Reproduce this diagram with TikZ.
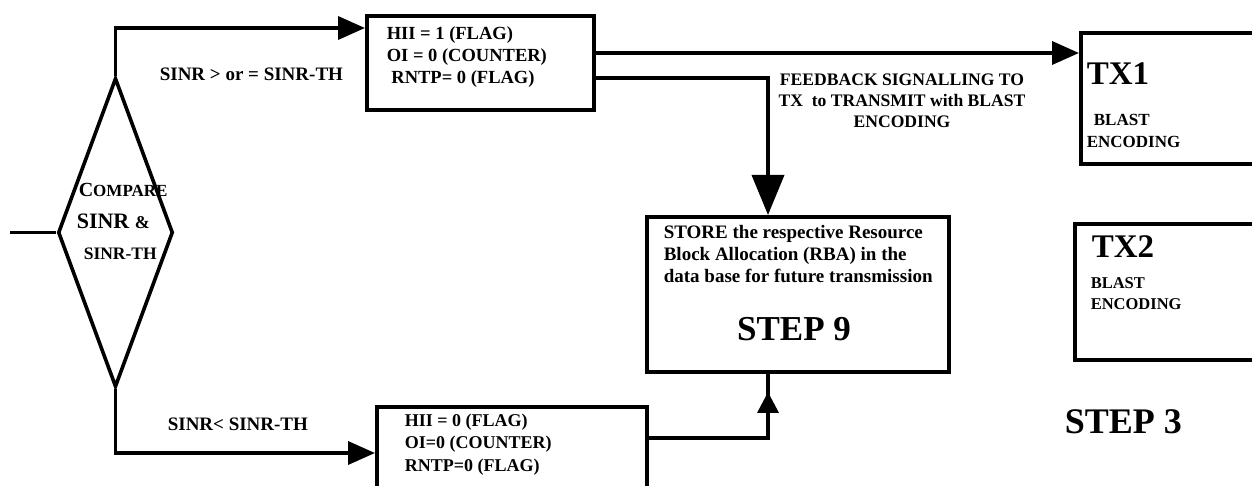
\documentclass[tikz,border=0pt]{standalone}
\usepackage{fontspec}
\setmainfont{Liberation Serif}
\usetikzlibrary{arrows.meta,calc,positioning,shapes.geometric,decorations.markings}

\begin{document}
\begin{tikzpicture}[x=1pt,y=-1pt,line width=3.6pt,font=\bfseries]
	\tikzstyle{blk}=[draw, rectangle, inner sep=0pt, anchor=north west]
	\tikzstyle{txt}=[inner sep=0pt, anchor=north west, align=left]
	\tikzstyle{arr}=[-{Triangle[length=27pt,width=23pt]}]
	\tikzstyle{bigarr}=[-{Triangle[length=40pt,width=32pt]}]
	\tikzstyle{midup}=[postaction={decorate}, decoration={markings,
		mark=at position 0.9 with {\arrow{Triangle[length=21pt,width=21pt]}}}]
	\useasboundingbox (0,0) rectangle (1252,486);
	\clip (0,0) rectangle (1252,486);

	% blocks
	\node[draw, diamond, inner sep=0pt, minimum width=115pt, minimum height=309pt] (cmp) at (115.5,232.5) {};
	\node[blk, minimum width=227pt, minimum height=94pt]  (hi) at (365,14) {};
	\node[blk, minimum width=270pt, minimum height=110pt] (lo) at (375,405) {};
	\node[blk, minimum width=302pt, minimum height=155pt] (store) at (645,215) {};
	\node[blk, minimum width=220pt, minimum height=131pt] (tx1) at (1079,31) {};
	\node[blk, minimum width=220pt, minimum height=136pt] (tx2) at (1073,222) {};
	\coordinate (in) at (10,232.5);

	% texts
	\node[txt, font=\bfseries\fontsize{20}{20}\selectfont] (cmpa) at (77,181) {C{\fontsize{17}{17}\selectfont OMPARE}};
	\node[txt, font=\bfseries\fontsize{22}{22}\selectfont] (cmpb) at (75,212) {SINR {\fontsize{18}{18}\selectfont \&}};
	\node[txt, font=\bfseries\fontsize{17.5}{17.5}\selectfont] (cmpc) at (82,246) {SINR-TH};
	\node[txt, font=\bfseries\fontsize{19}{19}\selectfont] (ge) at (158,66) {SINR > or = SINR-TH};
	\node[txt, font=\bfseries\fontsize{19}{19}\selectfont] (lt) at (166,416) {SINR< SINR-TH};
	\node[txt, font=\bfseries\fontsize{18.5}{22}\selectfont] (hitxt) at (385,25) {HII = 1 (FLAG)\\OI = 0 (COUNTER)\\\ RNTP= 0 (FLAG)};
	\node[txt, font=\bfseries\fontsize{18}{22.5}\selectfont] (lotxt) at (403,412) {HII = 0 (FLAG)\\OI=0 (COUNTER)\\RNTP=0 (FLAG)};
	\node[txt, align=center, anchor=north, font=\bfseries\fontsize{17.6}{21}\selectfont] (fb) at (902,72) {FEEDBACK SIGNALLING TO\\TX\ \ to TRANSMIT with BLAST\\ENCODING};
	\node[txt, font=\bfseries\fontsize{19}{22}\selectfont] (sttxt) at (662,224) {STORE the respective Resource\\Block Allocation (RBA) in the\\data base for future transmission};
	\node[txt, anchor=north, font=\bfseries\fontsize{35}{35}\selectfont] (st9) at (794,316) {STEP 9};
	\node[txt, font=\bfseries\fontsize{33}{33}\selectfont] (tx1a) at (1085,61) {TX1};
	\node[txt, font=\bfseries\fontsize{17}{22}\selectfont] (tx1b) at (1085,112) {\ \,BLAST\\ENCODING};
	\node[txt, font=\bfseries\fontsize{33}{33}\selectfont] (tx2a) at (1090,234) {TX2};
	\node[txt, font=\bfseries\fontsize{16.5}{21}\selectfont] (tx2b) at (1089,276) {BLAST\\ENCODING};
	\node[txt, font=\bfseries\fontsize{36}{36}\selectfont] (st3) at (1063,408) {STEP 3};

	% connectors
	\draw (in) -- (cmp.west);
	\draw[arr] (cmp.north) |- ($(hi.north west)+(0,14)$);
	\draw[arr] (cmp.south) |- ($(lo.north west)+(0,48)$);
	\draw[arr] ($(hi.north east)+(0,39)$) -- ($(tx1.north west)+(0,22)$);
	\draw[bigarr] ($(hi.north east)+(0,64)$) -| ($(store.north west)+(123,0)$);
	\draw[midup] ($(lo.north east)+(0,33)$) -| ($(store.south west)+(123,0)$);
\end{tikzpicture}
\end{document}
